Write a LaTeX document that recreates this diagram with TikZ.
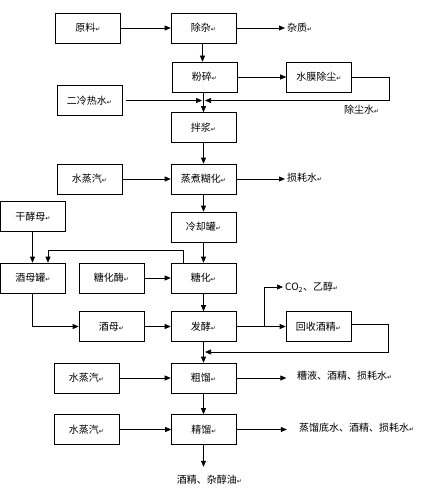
\documentclass[tikz,border=0pt]{standalone}
\usepackage{fontspec}
\setmainfont{Noto Sans CJK SC}
\newfontfamily\symfont{DejaVu Sans}
\usetikzlibrary{arrows.meta}
\newcommand{\ret}{{\symfont\fontsize{6}{6}\selectfont ↵}}

\begin{document}
\begin{tikzpicture}[x=1pt, y=-1pt, font=\fontsize{10}{12}\selectfont,
		box/.style={draw, minimum width=65pt, minimum height=30pt, inner sep=0pt, line width=0.6pt},
		txt/.style={anchor=west, inner sep=2pt},
		flow/.style={-{Triangle[length=6pt,width=5pt]}, line width=0.6pt}]
		\useasboundingbox (0,0) rectangle (441,500);
		% boxes
		\foreach \n/\x/\y/\t in {yuanliao/88/28/原料, chuza/203.5/28/除杂, fensui/204.5/77/粉碎, shuimo/319/77/水膜除尘,
			erleng/89.5/100.5/二冷热水, banjiang/203.5/127.5/拌浆, zhengqiA/89.5/179/水蒸汽, zhengzhu/203.5/179/蒸煮糊化,
			ganjiao/33/216.5/干酵母, lengque/203.5/227/冷却罐, jiumuguan/33/278/酒母罐, tanghuamei/111.5/278/糖化酶,
			tanghua/203.5/278/糖化, jiumu/111.5/326.5/酒母, fajiao/203.5/326.5/发酵, huishou/318.5/326.5/回收酒精,
			zhengqiB/86.5/378/水蒸汽, culiu/203.5/378/粗馏, zhengqiC/86.5/429.5/水蒸汽, jingliu/204/429.5/精馏} {
			\node[box] (\n) at (\x,\y) {\t\ret};
		}
		% outputs
		\foreach \n/\x/\y/\t in {zazhi/285/28/杂质, chenshui/342/110/除尘水, sunhao/285/178/损耗水, co2/283/287/{CO\textsubscript{2}、乙醇},
			zaoye/295/376/{糟液、酒精、损耗水}, diwater/297/428/{蒸馏底水、酒精、损耗水}} {
			\node[txt] (\n) at (\x,\y) {\t\ret};
		}
		\node (jiujing) at (209.5,480) {酒精、杂醇油\ret};
		\coordinate (j1) at (203.5,100.5);
		\coordinate (j2) at (203.5,352);
		\coordinate (fork) at (264,326.5);
		% flows
		\draw[flow] (yuanliao.east) -- (chuza.west);
		\draw[flow] (chuza.east) -- (chuza.east -| zazhi.west);
		\draw[flow] ([xshift=-1pt]chuza.south) -- ([xshift=-2pt]fensui.north);
		\draw[flow] (fensui.east) -- (shuimo.west);
		\draw[flow] (shuimo.east) -- ++(37,0) |- ([xshift=1.5pt]j1);
		\draw[flow, shorten <=4pt] (erleng.east) -- ([xshift=-1.5pt]j1);
		\draw[flow] ([xshift=-1pt]fensui.south) -- (banjiang.north);
		\draw[flow] (banjiang.south) -- (zhengzhu.north);
		\draw[flow] (zhengqiA.east) -- (zhengzhu.west);
		\draw[flow] (zhengzhu.east) -- (zhengzhu.east -| sunhao.west);
		\draw[flow] (zhengzhu.south) -- (lengque.north);
		\draw[flow] ([xshift=-0.5pt]ganjiao.south) -- ([xshift=-0.5pt]jiumuguan.north);
		\draw[flow] (lengque.south) -- (tanghua.north);
		\draw[flow] ([xshift=-20pt]tanghua.north) -- ++(0,-12) -| ([xshift=15pt]jiumuguan.north);
		\draw[flow] (tanghuamei.east) -- (tanghua.west);
		\draw[flow] (tanghua.south) -- (fajiao.north);
		\draw[flow] ([xshift=-0.5pt]jiumuguan.south) |- (jiumu.west);
		\draw[flow] (jiumu.east) -- (fajiao.west);
		\draw[flow] (fajiao.east) -- (huishou.west);
		\draw[flow] (fork) |- (co2.west);
		\draw[flow] ([yshift=2pt]huishou.east) -- ++(37,0) |- ([xshift=1.5pt]j2);
		\draw[flow] (fajiao.south) -- (culiu.north);
		\draw[flow] (zhengqiB.east) -- (culiu.west);
		\draw[flow] (culiu.east) -- ++(50,0);
		\draw[flow] (culiu.south) -- ([xshift=-0.5pt]jingliu.north);
		\draw[flow] (zhengqiC.east) -- (jingliu.west);
		\draw[flow] (jingliu.east) -- ++(50,0);
		\draw[flow] ([xshift=-0.5pt]jingliu.south) -- ++(0,22);
	\end{tikzpicture}
\end{document}
